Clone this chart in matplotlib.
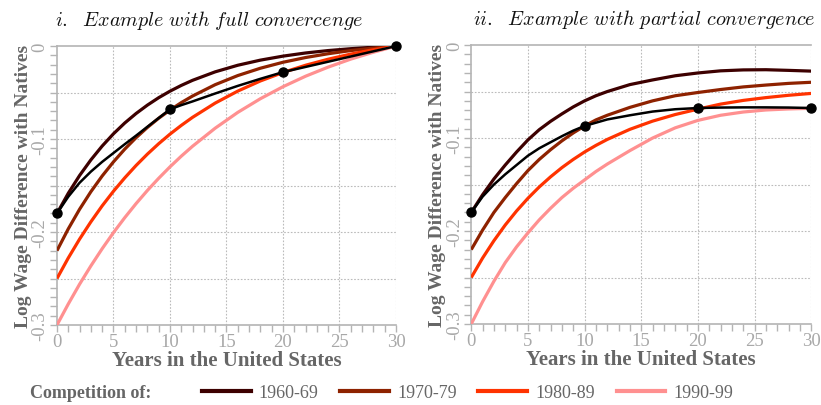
import numpy as np
import matplotlib
matplotlib.use("Agg")
import matplotlib.pyplot as plt
from matplotlib.lines import Line2D
from matplotlib.ticker import MultipleLocator

plt.rcParams['font.family'] = ['Liberation Serif', 'DejaVu Serif']
plt.rcParams['mathtext.fontset'] = 'cm'

years = [0, 1, 2, 3, 4, 5, 6, 7, 8, 9, 10, 11, 12, 14, 16, 18, 20, 22, 24, 26, 28, 30]
cohorts = ["1960-69", "1970-79", "1980-89", "1990-99"]
colors = ["#3d0000", "#8e2200", "#ff3300", "#ff9090"]

# panel i: full convergence
full_1960 = [-0.180, -0.1583, -0.1392, -0.1224, -0.1075, -0.0943, -0.0827, -0.0725, -0.0635,
             -0.0555, -0.0485, -0.0423, -0.0368, -0.0277, -0.0206, -0.0151, -0.0108,
             -0.0074, -0.0048, -0.0028, -0.0012, 0.0]
full_1970 = [-0.220, -0.1966, -0.1755, -0.1566, -0.1397, -0.1245, -0.1108, -0.0985, -0.0875,
             -0.0776, -0.0688, -0.0608, -0.0537, -0.0415, -0.0317, -0.0238, -0.0174,
             -0.0123, -0.0082, -0.0048, -0.0022, 0.0]
full_1980 = [-0.250, -0.2279, -0.2076, -0.1890, -0.1718, -0.1561, -0.1417, -0.1284, -0.1162,
             -0.1050, -0.0947, -0.0853, -0.0766, -0.0613, -0.0484, -0.0375, -0.0284,
             -0.0206, -0.0141, -0.0086, -0.0039, 0.0]
full_1990 = [-0.300, -0.2774, -0.2561, -0.2364, -0.2179, -0.2006, -0.1845, -0.1694, -0.1553,
             -0.1422, -0.1299, -0.1184, -0.1077, -0.0883, -0.0713, -0.0566, -0.0437,
             -0.0324, -0.0226, -0.0140, -0.0066, 0.0]
full_cross = [-0.180, -0.162, -0.147, -0.135, -0.1245, -0.115, -0.1055, -0.0963, -0.0868,
              -0.0774, -0.068, -0.0635, -0.0595, -0.051, -0.0428, -0.0352, -0.028,
              -0.0224, -0.0168, -0.0112, -0.0056, 0.0]

# panel ii: partial convergence
part_1960 = [-0.180, -0.161, -0.144, -0.129, -0.115, -0.102, -0.091, -0.082, -0.074,
             -0.0665, -0.060, -0.0545, -0.050, -0.0425, -0.0375, -0.033, -0.030,
             -0.0277, -0.0267, -0.0265, -0.0272, -0.028]
part_1970 = [-0.220, -0.199, -0.180, -0.164, -0.149, -0.135, -0.123, -0.1125, -0.103,
             -0.0945, -0.087, -0.0805, -0.0755, -0.067, -0.060, -0.0545, -0.051,
             -0.0478, -0.045, -0.043, -0.0412, -0.040]
part_1980 = [-0.250, -0.2291, -0.2104, -0.1935, -0.1784, -0.1648, -0.1526, -0.1417, -0.1318,
             -0.123, -0.115, -0.1079, -0.1015, -0.0906, -0.0818, -0.0747, -0.0689,
             -0.0635, -0.0595, -0.0565, -0.054, -0.052]
part_1990 = [-0.300, -0.276, -0.254, -0.234, -0.217, -0.202, -0.188, -0.1755, -0.164,
             -0.154, -0.145, -0.136, -0.128, -0.1135, -0.100, -0.089, -0.081,
             -0.0755, -0.072, -0.0698, -0.0687, -0.068]
part_cross = [-0.180, -0.163, -0.150, -0.139, -0.129, -0.119, -0.111, -0.1045, -0.098,
              -0.092, -0.087, -0.0835, -0.080, -0.0755, -0.0715, -0.069, -0.0677,
              -0.0672, -0.067, -0.067, -0.0672, -0.0677]

dot_years = [0, 10, 20, 30]

panels = [
    (r"$\mathit{i.\ \ Example\ with\ full\ convercenge}$",
     [full_1960, full_1970, full_1980, full_1990], full_cross, 0.45),
    (r"$\mathit{ii.\ \ Example\ with\ partial\ convergence}$",
     [part_1960, part_1970, part_1980, part_1990], part_cross, 0.51),
]

tick_gray = "#a8a8a8"
label_gray = "#666666"
spine_gray = "#b4b4b4"

fig = plt.figure(figsize=(8.21, 4.06), dpi=100)
ax_rects = [[0.0694, 0.197, 0.4129, 0.687], [0.574, 0.1995, 0.4141, 0.687]]

for rect, (title, series, cross, tx) in zip(ax_rects, panels):
    ax = fig.add_axes(rect)
    for vals, c in zip(series, colors):
        ax.plot(years, vals, color=c, lw=2.3, solid_capstyle='butt', zorder=3)
    ax.plot(years, cross, color="black", lw=1.8, zorder=4)
    cross_dots = [cross[years.index(d)] for d in dot_years]
    ax.plot(dot_years, cross_dots, "o", color="black", ms=6.5, zorder=5, clip_on=False)

    ax.set_xlim(0, 30)
    ax.set_ylim(-0.3, 0)
    ax.xaxis.set_major_locator(MultipleLocator(5))
    ax.xaxis.set_minor_locator(MultipleLocator(1))
    ax.yaxis.set_minor_locator(MultipleLocator(0.01))
    ax.set_yticks([0, -0.1, -0.2, -0.3])
    ax.set_yticklabels(["0", "-0.1", "-0.2", "-0.3"], rotation=90, va="center")
    for yv in [-0.05, -0.1, -0.15, -0.2, -0.25]:
        ax.axhline(yv, color="#bbbbbb", lw=0.8, ls=(0, (1.5, 1.5)), zorder=1)
    for xv in [5, 10, 15, 20, 25, 30]:
        ax.axvline(xv, color="#bbbbbb", lw=0.8, ls=(0, (1.5, 1.5)), zorder=1)

    for s in ["left", "bottom", "top"]:
        ax.spines[s].set_color(spine_gray)
        ax.spines[s].set_linewidth(1.2)
    ax.spines["right"].set_visible(False)
    ax.tick_params(which="both", colors=spine_gray, labelcolor=tick_gray,
                   labelsize=13.5, direction="out", length=5, width=1)
    ax.tick_params(axis="x", pad=0.5)
    ax.tick_params(axis="y", pad=1)

    ax.set_xlabel("Years in the United States", fontsize=15, fontweight="bold",
                  color=label_gray, labelpad=0)
    ax.set_ylabel("Log Wage Difference with Natives", fontsize=14, fontweight="bold",
                  color=label_gray, labelpad=0)
    ax.set_title(title, fontsize=14.5, color="#111111", pad=15, x=tx)

handles = [Line2D([], [], color=c, lw=3) for c in colors]
fig.text(0.037, 0.03, "Competition of:", fontsize=13, fontweight="bold",
         color=label_gray, va="center")
fig.legend(handles, cohorts, loc="center left", bbox_to_anchor=(0.226, 0.031),
           ncol=4, frameon=False, fontsize=13, handlelength=2.7,
           handletextpad=0.45, columnspacing=1.2, labelcolor=label_gray)

fig.savefig("out.png", dpi=100)
